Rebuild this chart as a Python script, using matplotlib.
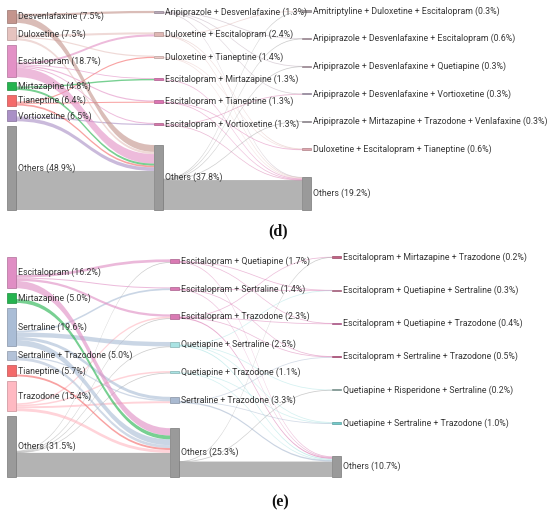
import matplotlib.pyplot as plt
import matplotlib.colors as mcolors
from matplotlib.patches import PathPatch, Rectangle
from matplotlib.path import Path

# ---------------- panel (d) data ----------------
d_first = ['Desvenlafaxine', 'Duloxetine', 'Escitalopram', 'Mirtazapine',
           'Tianeptine', 'Vortioxetine', 'Others']
d_first_pct = [7.5, 7.5, 18.7, 4.8, 6.4, 6.5, 48.9]
d_second = ['Aripiprazole + Desvenlafaxine', 'Duloxetine + Escitalopram',
            'Duloxetine + Tianeptine', 'Escitalopram + Mirtazapine',
            'Escitalopram + Tianeptine', 'Escitalopram + Vortioxetine', 'Others']
d_second_pct = [1.3, 2.4, 1.4, 1.3, 1.3, 1.3, 37.8]
d_third = ['Amitriptyline + Duloxetine + Escitalopram',
           'Aripiprazole + Desvenlafaxine + Escitalopram',
           'Aripiprazole + Desvenlafaxine + Quetiapine',
           'Aripiprazole + Desvenlafaxine + Vortioxetine',
           'Aripiprazole + Mirtazapine + Trazodone + Venlafaxine',
           'Duloxetine + Escitalopram + Tianeptine', 'Others']
d_third_pct = [0.3, 0.6, 0.3, 0.3, 0.3, 0.6, 19.2]
# (source index, target index, percent of patients)
d_flows_12 = [(0, 0, 1.3), (1, 1, 1.2), (2, 1, 1.2), (1, 2, 0.7), (4, 2, 0.7),
              (3, 3, 0.8), (2, 3, 0.5), (2, 4, 0.7), (4, 4, 0.6), (2, 5, 0.6),
              (5, 5, 0.7), (0, 6, 4.0), (1, 6, 1.3), (2, 6, 5.5), (3, 6, 1.2),
              (4, 6, 1.0), (5, 6, 2.1), (6, 6, 22.7)]
d_flows_23 = [(0, 1, 0.3), (0, 2, 0.2), (0, 3, 0.2), (0, 6, 0.2),
              (1, 0, 0.2), (1, 5, 0.3), (1, 6, 0.4), (2, 5, 0.2), (2, 6, 0.3),
              (3, 6, 0.4), (4, 5, 0.1), (4, 6, 0.3), (5, 3, 0.1), (5, 6, 0.2),
              (6, 0, 0.1), (6, 1, 0.3), (6, 2, 0.1), (6, 4, 0.3), (6, 6, 17.4)]

# ---------------- panel (e) data ----------------
e_first = ['Escitalopram', 'Mirtazapine', 'Sertraline', 'Sertraline + Trazodone',
           'Tianeptine', 'Trazodone', 'Others']
e_first_pct = [16.2, 5.0, 19.6, 5.0, 5.7, 15.4, 31.5]
e_second = ['Escitalopram + Quetiapine', 'Escitalopram + Sertraline',
            'Escitalopram + Trazodone', 'Quetiapine + Sertraline',
            'Quetiapine + Trazodone', 'Sertraline + Trazodone', 'Others']
e_second_pct = [1.7, 1.4, 2.3, 2.5, 1.1, 3.3, 25.3]
e_third = ['Escitalopram + Mirtazapine + Trazodone',
           'Escitalopram + Quetiapine + Sertraline',
           'Escitalopram + Quetiapine + Trazodone',
           'Escitalopram + Sertraline + Trazodone',
           'Quetiapine + Risperidone + Sertraline',
           'Quetiapine + Sertraline + Trazodone', 'Others']
e_third_pct = [0.2, 0.3, 0.4, 0.5, 0.2, 1.0, 10.7]
e_flows_12 = [(0, 0, 1.4), (6, 0, 0.3), (0, 1, 0.5), (2, 1, 0.9), (0, 2, 1.2),
              (5, 2, 0.8), (6, 2, 0.3), (2, 3, 2.3), (6, 3, 0.2), (5, 4, 0.8),
              (6, 4, 0.3), (2, 5, 1.6), (5, 5, 1.0), (3, 5, 0.7), (0, 6, 3.8),
              (1, 6, 2.0), (2, 6, 3.0), (3, 6, 1.5), (4, 6, 1.0), (5, 6, 1.5),
              (6, 6, 12.5)]
e_flows_23 = [(0, 1, 0.1), (0, 2, 0.2), (0, 6, 0.4), (1, 1, 0.1), (1, 3, 0.2),
              (1, 6, 0.3), (2, 0, 0.1), (2, 2, 0.2), (2, 3, 0.2), (2, 6, 0.6),
              (3, 1, 0.1), (3, 4, 0.1), (3, 5, 0.4), (3, 6, 0.5), (4, 5, 0.2),
              (4, 6, 0.2), (5, 3, 0.1), (5, 5, 0.4), (5, 6, 0.7), (6, 0, 0.1),
              (6, 4, 0.1), (6, 6, 8.0)]

# ---------------- colours ----------------
gray = '#9a9a9a'
d_colors = [['#c4958d', '#e6c3bf', '#e391c6', '#25b34f', '#f46a6a', '#aa90c6', gray],
            ['#b9a7b6', '#dfb7b4', '#ecc9c6', '#dd74b2', '#dd74b2', '#d676aa', gray],
            ['#a8a0a4', '#b9a2ae', '#b9a2ae', '#b0a0b8', '#a8a0a8', '#e0a6ae', gray]]
e_colors = [['#e08ec4', '#25b34f', '#aabdd6', '#b3c2d8', '#f46a6a', '#ffb9c2', gray],
            ['#d97ab3', '#d97ab3', '#d97ab3', '#a9e3e3', '#a9e3e3', '#a9b9d0', gray],
            ['#c46284', '#c67294', '#cf68a2', '#c65686', '#93b1ab', '#72caca', gray]]

# ---------------- layout (pixels) ----------------
d_layout = dict(top=10, bottom=210, scale=1.72, xs=[7, 154, 302],
                first=[None, 12, 11], step=[None, 22.4, 27.6], title=('(d)', 278, 231))
e_layout = dict(top=257, bottom=477, scale=1.93, xs=[7, 170, 332],
                first=[None, 261, 257], step=[None, 27.8, 33.2], title=('(e)', 280, 502))
node_w = 9
label_font = dict(family='Roboto', fontsize=6.3, color='#383838')

fig = plt.figure(figsize=(5.5, 5.15), dpi=100)
ax = fig.add_axes([0, 0, 1, 1])
ax.set_xlim(0, 550)
ax.set_ylim(515, 0)
ax.axis('off')


def darker(c, f=0.78):
    r, g, b = mcolors.to_rgb(c)
    return (r * f, g * f, b * f)


def node_boxes(pcts, top, bottom, scale, first, step):
    hs = [max(p * scale, 1.3) for p in pcts]
    if first is None:
        gap = (bottom - top - sum(hs)) / (len(hs) - 1)
        boxes, y = [], top
        for h in hs:
            boxes.append((y, y + h))
            y += h + gap
    else:
        boxes = [(first + i * step - h / 2, first + i * step + h / 2)
                 for i, h in enumerate(hs[:-1])]
        boxes.append((bottom - hs[-1], bottom))
    return boxes


def band(x0, y0, x1, y1, h, color, alpha, z):
    xm = (x0 + x1) / 2
    h = max(h, 0.8)
    verts = [(x0, y0), (xm, y0), (xm, y1), (x1, y1),
             (x1, y1 + h), (xm, y1 + h), (xm, y0 + h), (x0, y0 + h), (x0, y0)]
    codes = [Path.MOVETO, Path.CURVE4, Path.CURVE4, Path.CURVE4,
             Path.LINETO, Path.CURVE4, Path.CURVE4, Path.CURVE4, Path.CLOSEPOLY]
    ax.add_patch(PathPatch(Path(verts, codes), fc=color, ec='none', alpha=alpha, zorder=z))


def draw_links(flows, src_boxes, tgt_boxes, x0, x1, scale, colors, n_last):
    out_y = {}
    for s in range(len(src_boxes)):
        fl = sorted([f for f in flows if f[0] == s], key=lambda f: f[1])
        y = src_boxes[s][1] - sum(f[2] for f in fl) * scale
        for f in fl:
            out_y[f] = y
            y += f[2] * scale
    in_y = {}
    for t in range(len(tgt_boxes)):
        fl = sorted([f for f in flows if f[1] == t], key=lambda f: f[0])
        tot = sum(f[2] for f in fl) * scale
        c = (tgt_boxes[t][0] + tgt_boxes[t][1]) / 2
        y = c - tot / 2 if t < n_last else tgt_boxes[t][1] - tot
        for f in fl:
            in_y[f] = y
            y += f[2] * scale
    for f in flows:
        s, t, v = f
        if s == n_last and t == n_last:
            band(x0, out_y[f], x1, in_y[f], v * scale, '#ababab', 0.9, 1)
        else:
            a = 0.62 if v >= 0.5 else 0.5
            band(x0, out_y[f], x1, in_y[f], v * scale, colors[s], a, 2)


def draw_panel(cols, pcts, flows, colors, lay):
    boxes = [node_boxes(p, lay['top'], lay['bottom'], lay['scale'], lay['first'][i], lay['step'][i])
             for i, p in enumerate(pcts)]
    for i, fl in enumerate(flows):
        draw_links(fl, boxes[i], boxes[i + 1], lay['xs'][i] + node_w, lay['xs'][i + 1],
                   lay['scale'], colors[i], len(cols[i]) - 1)
    for i, names in enumerate(cols):
        x = lay['xs'][i]
        for j, name in enumerate(names):
            y0, y1 = boxes[i][j]
            col = colors[i][j]
            ax.add_patch(Rectangle((x, y0), node_w, y1 - y0, fc=col, ec=darker(col),
                                   lw=0.5, zorder=3))
            ax.text(x + node_w + 2, (y0 + y1) / 2, f'{name} ({pcts[i][j]}%)',
                    ha='left', va='center', zorder=4, **label_font)
    t, tx, ty = lay['title']
    ax.text(tx, ty, t, ha='center', va='center', family='Liberation Serif',
            fontsize=11.5, fontweight='bold', color='#111111')


draw_panel([d_first, d_second, d_third], [d_first_pct, d_second_pct, d_third_pct],
           [d_flows_12, d_flows_23], d_colors, d_layout)
draw_panel([e_first, e_second, e_third], [e_first_pct, e_second_pct, e_third_pct],
           [e_flows_12, e_flows_23], e_colors, e_layout)

fig.savefig('out.png', dpi=100)
